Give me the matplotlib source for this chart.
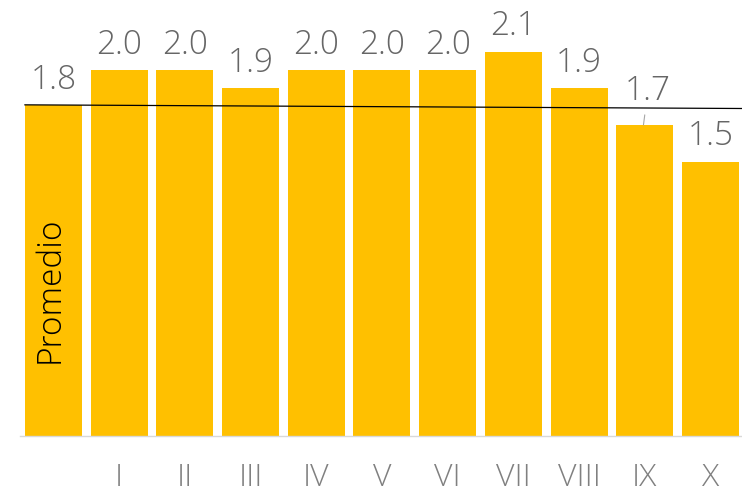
import matplotlib
matplotlib.use("Agg")
import matplotlib.pyplot as plt

categories = ["Promedio", "I", "II", "III", "IV", "V", "VI", "VII", "VIII", "IX", "X"]
tick_labels = ["", "I", "II", "III", "IV", "V", "VI", "VII", "VIII", "IX", "X"]
values = [1.81, 2.0, 2.0, 1.9, 2.0, 2.0, 2.0, 2.1, 1.9, 1.7, 1.5]
avg_line = [1.81, 1.79]

fig = plt.figure(figsize=(7.42, 4.96), dpi=100)
ax = fig.add_axes([20/742, 60/496, 722/742, 436/496])
x = list(range(len(values)))
ax.bar(x, values, width=0.868, color="#FFC000", zorder=2)
ax.set_xlim(-0.51, 10.48)
ax.set_ylim(0, 2.383)
for s in ["top", "right", "left"]:
    ax.spines[s].set_visible(False)
ax.spines["bottom"].set_color("#D9D9D9")
ax.spines["bottom"].set_linewidth(1)
ax.set_yticks([])
ax.set_xticks(x)
font = dict(family="Open Sans", fontweight="light")
ax.set_xticklabels(tick_labels, fontsize=23, color="#808080", **font)
ax.tick_params(axis="x", length=0, pad=19)

ax.plot([-0.435, 10.48], avg_line, color="black", lw=0.9, zorder=3)

for i, v in enumerate(values):
    if i == 9:
        ax.annotate(f"{v:.1f}", xy=(i, v), xytext=(2, 12), textcoords="offset points",
                    ha="center", va="bottom", fontsize=24, color="#666666", **font)
        ax.annotate("", xy=(i - 0.02, v), xytext=(i, v + 0.055),
                    arrowprops=dict(arrowstyle="-", color="#A6A6A6", lw=0.8,
                                    shrinkA=0, shrinkB=0))
    else:
        ax.annotate(f"{v:.1f}", xy=(i, v), xytext=(0, 6), textcoords="offset points",
                    ha="center", va="bottom", fontsize=24, color="#666666", **font)

ax.text(-0.05, 0.80, categories[0], rotation=90, ha="center", va="center",
        fontsize=24, color="black", **font)

fig.savefig("out.png", dpi=100)
